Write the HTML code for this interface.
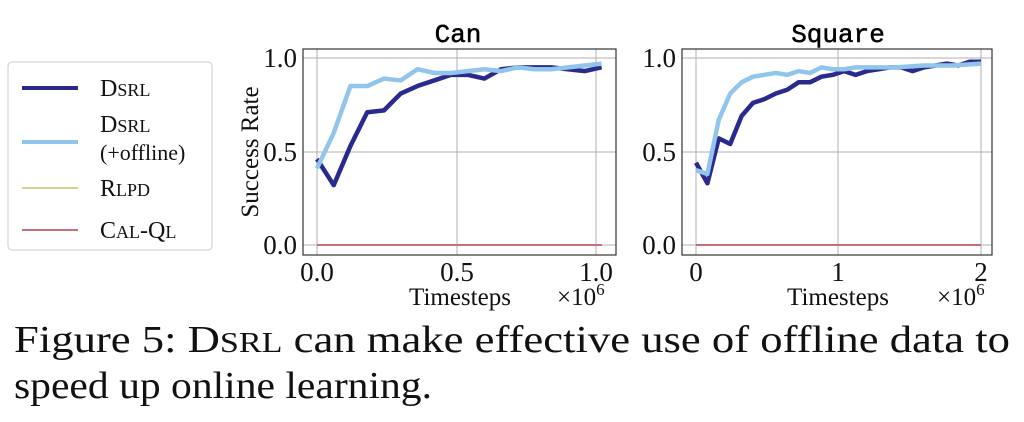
<!DOCTYPE html>
<html><head><meta charset="utf-8"><style>
html,body{margin:0;padding:0;background:#fff;}
svg{display:block;}
.s{font-family:"Liberation Serif",serif;fill:#111;}
.m{font-family:"Liberation Mono",monospace;fill:#000;}
.g{stroke:#b0b0b0;stroke-width:1;}
</style></head><body>
<svg width="1024" height="422" viewBox="0 0 1024 422" xmlns="http://www.w3.org/2000/svg">
<!-- Legend -->
<rect x="8" y="62" width="204" height="188" rx="4" fill="#fff" stroke="#ccc"/>
<line x1="22" y1="88" x2="78" y2="88" stroke="#2a2a8c" stroke-width="4"/>
<text x="100" y="96" class="s" font-size="24">D<tspan font-size="18">SRL</tspan></text>
<line x1="22" y1="142" x2="78" y2="142" stroke="#92c5ec" stroke-width="4"/>
<text x="100" y="132" class="s" font-size="24">D<tspan font-size="18">SRL</tspan></text>
<text x="100" y="160" class="s" font-size="22">(+offline)</text>
<line x1="22" y1="188" x2="78" y2="188" stroke="#d8d090" stroke-width="2"/>
<text x="100" y="196" class="s" font-size="24">R<tspan font-size="18">LPD</tspan></text>
<line x1="22" y1="230" x2="78" y2="230" stroke="#c8707a" stroke-width="2"/>
<text x="100" y="238" class="s" font-size="24">C<tspan font-size="18">AL</tspan>-Q<tspan font-size="18">L</tspan></text>

<!-- Can plot -->
<text x="458" y="42" class="m" font-size="26" text-anchor="middle" stroke="#000" stroke-width="0.5">Can</text>
<line class="g" x1="303" y1="58" x2="616" y2="58"/><line class="g" x1="303" y1="152" x2="616" y2="152"/><line class="g" x1="303" y1="245" x2="616" y2="245"/>
<line class="g" x1="317" y1="49" x2="317" y2="255"/><line class="g" x1="457" y1="49" x2="457" y2="255"/><line class="g" x1="596" y1="49" x2="596" y2="255"/>
<line x1="317" y1="245" x2="602" y2="245" stroke="#c8707a" stroke-width="2"/>
<g transform="translate(317,245) scale(279,-187)" fill="none" stroke-linejoin="round">
<polyline vector-effect="non-scaling-stroke" stroke="#2a2a8c" stroke-width="4.5" points="0,0.46 0.06,0.32 0.12,0.53 0.18,0.71 0.24,0.72 0.3,0.81 0.36,0.85 0.42,0.88 0.48,0.91 0.54,0.91 0.6,0.89 0.66,0.94 0.72,0.95 0.78,0.95 0.84,0.95 0.9,0.94 0.96,0.93 1.02,0.95"/>
<polyline vector-effect="non-scaling-stroke" stroke="#92c5ec" stroke-width="4.5" points="0,0.41 0.06,0.6 0.12,0.85 0.18,0.85 0.24,0.89 0.3,0.88 0.36,0.94 0.42,0.92 0.48,0.92 0.54,0.93 0.6,0.94 0.66,0.93 0.72,0.95 0.78,0.94 0.84,0.94 0.9,0.95 0.96,0.96 1.02,0.97"/>
</g>
<rect x="303" y="49" width="313" height="206" fill="none" stroke="#333" stroke-width="1.2"/>
<text x="297" y="67" class="s" font-size="27" text-anchor="end">1.0</text>
<text x="297" y="161" class="s" font-size="27" text-anchor="end">0.5</text>
<text x="297" y="254" class="s" font-size="27" text-anchor="end">0.0</text>
<text x="317" y="281" class="s" font-size="27" text-anchor="middle">0.0</text>
<text x="457" y="281" class="s" font-size="27" text-anchor="middle">0.5</text>
<text x="596" y="281" class="s" font-size="27" text-anchor="middle">1.0</text>
<text x="460" y="305" class="s" font-size="25" text-anchor="middle">Timesteps</text>
<text x="557" y="305" class="s" font-size="25">×10<tspan font-size="17" dy="-10">6</tspan></text>
<text transform="translate(258,152) rotate(-90)" class="s" font-size="25" text-anchor="middle">Success Rate</text>

<!-- Square plot -->
<text x="838" y="42" class="m" font-size="26" text-anchor="middle" stroke="#000" stroke-width="0.5">Square</text>
<line class="g" x1="682" y1="58" x2="992" y2="58"/><line class="g" x1="682" y1="152" x2="992" y2="152"/><line class="g" x1="682" y1="245" x2="992" y2="245"/>
<line class="g" x1="696" y1="49" x2="696" y2="255"/><line class="g" x1="838" y1="49" x2="838" y2="255"/><line class="g" x1="981" y1="49" x2="981" y2="255"/>
<line x1="696" y1="245" x2="981" y2="245" stroke="#c8707a" stroke-width="2"/>
<g transform="translate(696,245) scale(142.5,-187)" fill="none" stroke-linejoin="round">
<polyline vector-effect="non-scaling-stroke" stroke="#2a2a8c" stroke-width="4.5" points="0,0.44 0.08,0.33 0.16,0.57 0.24,0.54 0.32,0.69 0.4,0.76 0.48,0.78 0.56,0.81 0.64,0.83 0.72,0.87 0.8,0.87 0.88,0.9 0.96,0.91 1.04,0.93 1.12,0.91 1.2,0.93 1.28,0.94 1.36,0.95 1.44,0.95 1.52,0.93 1.6,0.95 1.68,0.96 1.76,0.97 1.84,0.96 1.92,0.98 2,0.98"/>
<polyline vector-effect="non-scaling-stroke" stroke="#92c5ec" stroke-width="4.5" points="0,0.4 0.08,0.38 0.16,0.67 0.24,0.81 0.32,0.87 0.4,0.9 0.48,0.91 0.56,0.92 0.64,0.91 0.72,0.93 0.8,0.92 0.88,0.95 0.96,0.94 1.04,0.94 1.12,0.95 1.2,0.95 1.4,0.95 1.6,0.96 1.8,0.96 2,0.97"/>
</g>
<rect x="682" y="49" width="310" height="206" fill="none" stroke="#333" stroke-width="1.2"/>
<text x="676" y="67" class="s" font-size="27" text-anchor="end">1.0</text>
<text x="676" y="161" class="s" font-size="27" text-anchor="end">0.5</text>
<text x="676" y="254" class="s" font-size="27" text-anchor="end">0.0</text>
<text x="696" y="281" class="s" font-size="27" text-anchor="middle">0</text>
<text x="838" y="281" class="s" font-size="27" text-anchor="middle">1</text>
<text x="981" y="281" class="s" font-size="27" text-anchor="middle">2</text>
<text x="838" y="305" class="s" font-size="25" text-anchor="middle">Timesteps</text>
<text x="937" y="305" class="s" font-size="25">×10<tspan font-size="17" dy="-10">6</tspan></text>

<!-- Caption -->
<text x="14" y="352" class="s" font-size="38" fill="#000" textLength="996" lengthAdjust="spacingAndGlyphs">Figure 5: D<tspan font-size="29">SRL</tspan> can make effective use of offline data to</text>
<text x="14" y="398" class="s" font-size="38" fill="#000" textLength="418" lengthAdjust="spacingAndGlyphs">speed up online learning.</text>
</svg>
</body></html>
